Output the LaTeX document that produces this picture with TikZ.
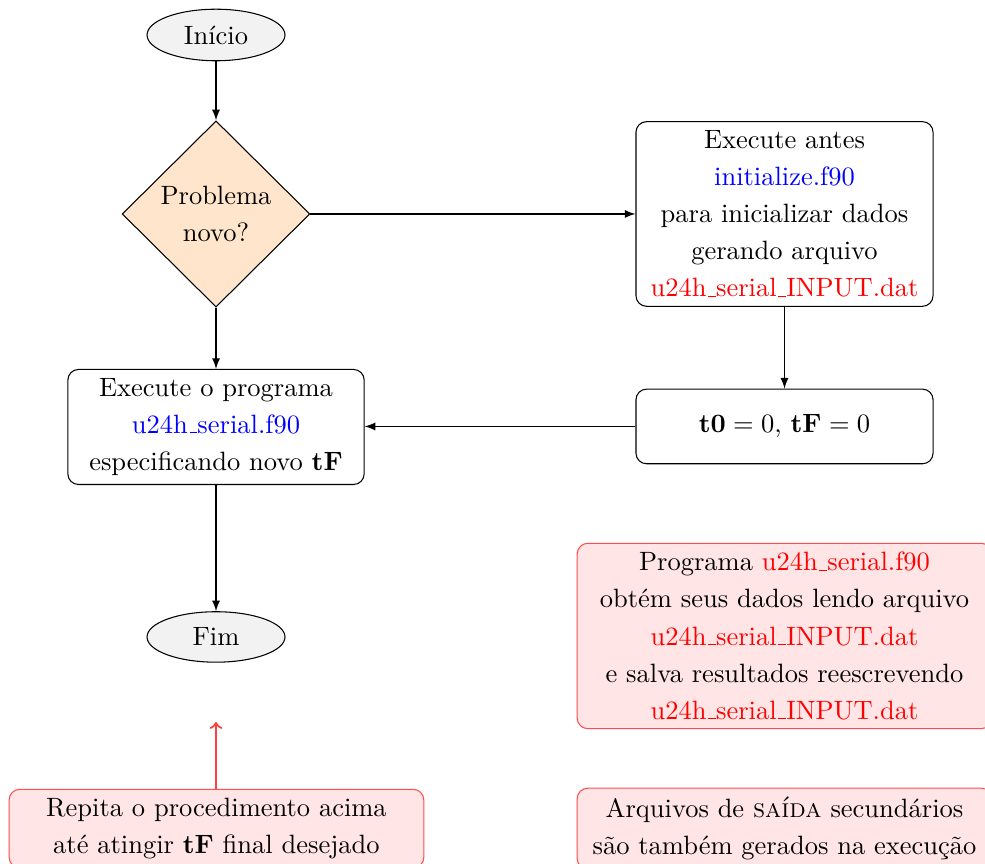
\documentclass[tikz,border=0pt]{standalone}
\usetikzlibrary{shapes.geometric}
\newcommand{\usc}{\leavevmode\kern.06em\vbox{\hrule width.3em}}

\begin{document}
\begin{tikzpicture}[>=latex,
  term/.style={ellipse,draw,fill=gray!10,minimum width=1.83cm,minimum height=0.66cm},
  decision/.style={diamond,draw,fill=orange!20,minimum width=2.49cm,minimum height=2.47cm,align=center,inner sep=0pt},
  block/.style={rectangle,draw,rounded corners,minimum width=3.94cm,align=center,font=\fontsize{10}{14}\selectfont},
  note/.style={rectangle,draw=red!70,fill=red!10,rounded corners,minimum width=5.5cm,align=center,font=\fontsize{10}{14}\selectfont}]
\path[use as bounding box,clip] (0,0) rectangle (13.064,-11.459);

\node[term] (inicio) at (2.865,-0.464) {Início};
\node[decision] (novo) at (2.865,-2.838) {Problema\\[2pt] novo?};
\node[block,minimum height=2.41cm] (antes) at (10.405,-2.838)
  {Execute antes\\ \textcolor{blue}{initialize.f90}\\ para inicializar dados\\ gerando arquivo\\ \textcolor{red}{u24h\usc serial\usc INPUT.dat}};
\node[block,minimum height=0.99cm] (zero) at (10.405,-5.656) {$\mathbf{t0}=0$, $\mathbf{tF}=0$};
\node[block,minimum width=3.93cm,minimum height=1.51cm] (exec) at (2.865,-5.663)
  {Execute o programa\\ \textcolor{blue}{u24h\usc serial.f90}\\ especificando novo \textbf{tF}};
\node[term] (fim) at (2.865,-8.448) {Fim};

\node[note,minimum height=2.41cm] (dados) at (10.405,-8.435)
  {Programa \textcolor{red}{u24h\usc serial.f90}\\ obtém seus dados lendo arquivo\\ \textcolor{red}{u24h\usc serial\usc INPUT.dat}\\ e salva resultados reescrevendo\\ \textcolor{red}{u24h\usc serial\usc INPUT.dat}};
\node[note,minimum height=1.0cm] (saida) at (10.405,-10.99)
  {Arquivos de \textsc{saída} secundários\\ são também gerados na execução};
\node[note,minimum height=1.0cm] (repita) at (2.871,-10.99)
  {Repita o procedimento acima\\ até atingir \textbf{tF} final desejado};
\coordinate (volta) at (2.865,-9.576);

\draw[->] (inicio) -- (novo);
\draw[->] (novo.east) -- (antes.west |- novo.east);
\draw[->] (antes) -- (zero);
\draw[->] (zero.west) -- (exec.east |- zero.west);
\draw[->] (novo) -- (exec);
\draw[->] (exec) -- (fim);
\draw[-to,red!75,thick] (repita.north -| volta) -- (volta);

\end{tikzpicture}
\end{document}
